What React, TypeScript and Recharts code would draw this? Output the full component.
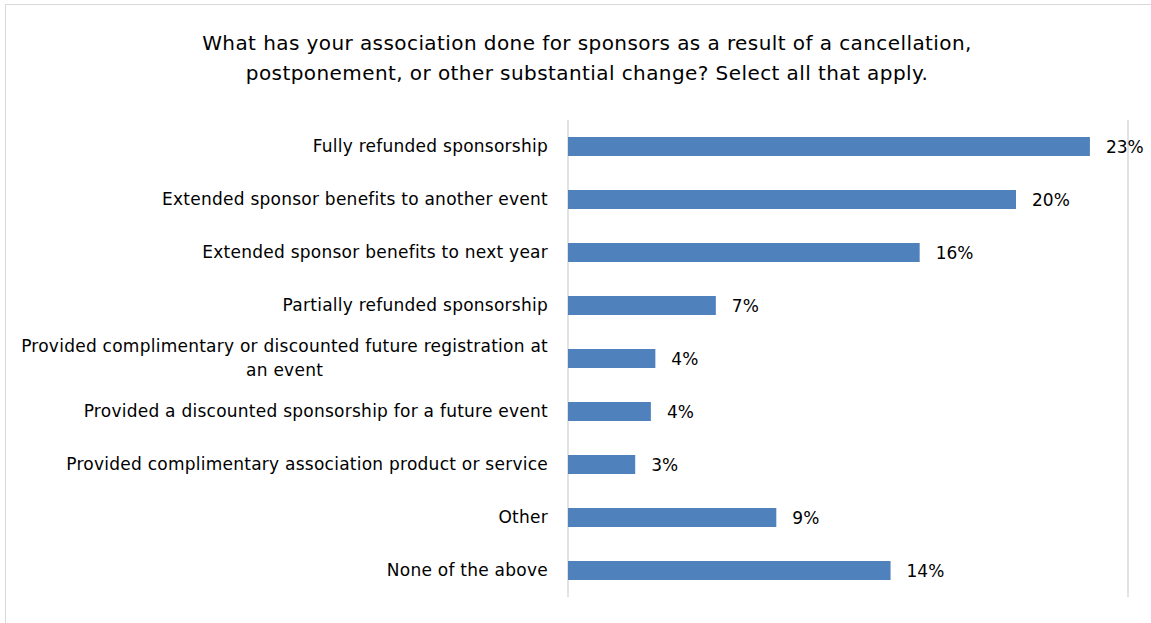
import { Bar, BarChart, CartesianGrid, LabelList, XAxis, YAxis } from "recharts"

const CATEGORIES = [
    "Fully refunded sponsorship",
    "Extended sponsor benefits to another event",
    "Extended sponsor benefits to next year",
    "Partially refunded sponsorship",
    "Provided complimentary or discounted future registration at an event",
    "Provided a discounted sponsorship for a future event",
    "Provided complimentary association product or service",
    "Other",
    "None of the above",
]

// share of respondents, in percent
const SHARES = [23.3, 20.0, 15.7, 6.6, 3.9, 3.7, 3.0, 9.3, 14.4]

const X_TICKS = [0, 5, 10, 15, 20, 25]

const TITLE_LINES = [
    "What has your association done for sponsors as a result of a cancellation,",
    "postponement, or other substantial change? Select all that apply.",
]

const FONT = '"DejaVu Sans", sans-serif'
const LABEL_SIZE = 17
const LABEL_SPACING = 0.25
const BAR_COLOR = "#4F81BD"
const GRID_COLOR = "#D9D9D9"

const data = CATEGORIES.map((name, i) => ({ name, value: SHARES[i] }))

let ctx: CanvasRenderingContext2D | null = null
function measure(text: string) {
    if (!ctx) {
        ctx = document.createElement("canvas").getContext("2d")
    }
    if (!ctx) return text.length * LABEL_SIZE * 0.55
    ctx.font = `${LABEL_SIZE}px ${FONT}`
    return ctx.measureText(text).width + text.length * LABEL_SPACING
}

function wrap(text: string, maxWidth: number) {
    const words = text.split(" ")
    const lines: string[] = []
    let line = ""
    for (const w of words) {
        const next = line ? line + " " + w : w
        if (line && measure(next) > maxWidth) {
            lines.push(line)
            line = w
        } else {
            line = next
        }
    }
    if (line) lines.push(line)
    return lines
}

function CategoryTick(props: any) {
    const { x, y, payload } = props
    const right = x - 20
    const lines = wrap(payload.value, 537)
    const style = { letterSpacing: LABEL_SPACING }
    if (lines.length === 1) {
        return (
            <text x={right} y={y} dy="0.35em" textAnchor="end" fontSize={LABEL_SIZE} fontFamily={FONT} fill="#000" style={style}>
                {lines[0]}
            </text>
        )
    }
    // multi-line labels: centred block, right-aligned to the axis
    const blockWidth = Math.max(...lines.map(measure))
    const cx = right - blockWidth / 2
    const lh = 24
    const top = y - ((lines.length - 1) * lh) / 2
    return (
        <text textAnchor="middle" fontSize={LABEL_SIZE} fontFamily={FONT} fill="#000" style={style}>
            {lines.map((l, i) => (
                <tspan key={i} x={cx} y={top + i * lh} dy="0.35em">
                    {l}
                </tspan>
            ))}
        </text>
    )
}

export default function App() {
    return (
        <div
            style={{
                position: "fixed",
                left: 0,
                top: 0,
                width: 1151,
                height: 623,
                overflow: "hidden",
                background: "#fff",
            }}
        >
            <div
                style={{
                    position: "absolute",
                    left: 5,
                    top: 4,
                    width: 1300,
                    height: 800,
                    border: `1px solid ${GRID_COLOR}`,
                }}
            />
            <div
                style={{
                    position: "absolute",
                    left: 137,
                    top: 28,
                    width: 900,
                    textAlign: "center",
                    fontFamily: FONT,
                    fontSize: 20,
                    letterSpacing: 0.42,
                    lineHeight: "30px",
                    color: "#000",
                }}
            >
                {TITLE_LINES.map((t, i) => (
                    <div key={i}>{t}</div>
                ))}
            </div>
            <div style={{ position: "absolute", left: 0, top: 0 }}>
                <BarChart
                    width={1151}
                    height={623}
                    data={data}
                    layout="vertical"
                    margin={{ top: 120, right: 23, bottom: 26, left: 0 }}
                    barSize={19}
                >
                    <CartesianGrid horizontal={false} stroke={GRID_COLOR} strokeWidth={1.5} />
                    <XAxis
                        type="number"
                        domain={[0, 25]}
                        ticks={X_TICKS}
                        tick={false}
                        axisLine={false}
                        tickLine={false}
                        height={0}
                    />
                    <YAxis
                        type="category"
                        dataKey="name"
                        width={568}
                        axisLine={false}
                        tickLine={false}
                        tickSize={0}
                        tickMargin={0}
                        interval={0}
                        tick={<CategoryTick />}
                    />
                    <Bar dataKey="value" fill={BAR_COLOR} isAnimationActive={false}>
                        <LabelList
                            dataKey="value"
                            position="right"
                            offset={16}
                            formatter={(v: any) => `${Math.round(Number(v))}%`}
                            fill="#000"
                            fontSize={LABEL_SIZE}
                            fontFamily={FONT}
                        />
                    </Bar>
                </BarChart>
            </div>
        </div>
    )
}
